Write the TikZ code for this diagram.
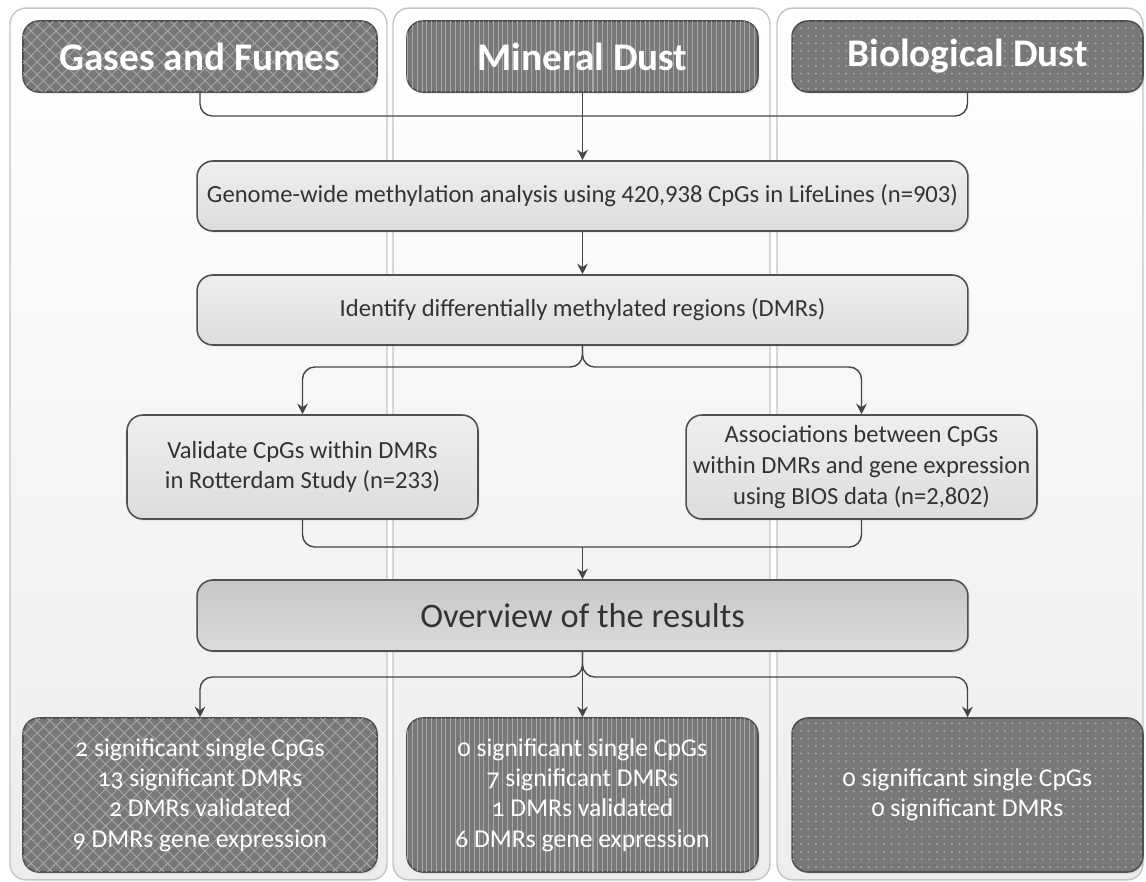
\documentclass[tikz,border=0pt]{standalone}
\usepackage{fontspec}
\setmainfont{Carlito}
\usetikzlibrary{arrows.meta,patterns.meta,shadows}
\definecolor{panelfill}{HTML}{F1F1F1}
\definecolor{paneledge}{HTML}{C4C4C4}
\definecolor{boxdark}{HTML}{787878}
\definecolor{patgray}{HTML}{A9A9A9}
\definecolor{edgegray}{HTML}{505050}
\definecolor{linegray}{HTML}{454545}
\definecolor{textgray}{HTML}{333333}

\begin{document}
\begin{tikzpicture}[x=0.02cm, y=-0.02cm, font=\fontsize{14}{17.5}\selectfont, every node/.style={align=center}]
\tikzset{
  panel/.style={draw=paneledge, line width=0.8pt, rounded corners=9pt, top color=white, bottom color=panelfill!85!gray!60},
  exposure/.style={draw=edgegray, line width=0.9pt, rounded corners=9pt, fill=boxdark, text=white,
    minimum height=1.42cm, drop shadow={opacity=0.12, shadow xshift=1pt, shadow yshift=-1.2pt}},
  heading/.style={exposure, font=\fontsize{22.3}{26}\selectfont\bfseries},
  result/.style={exposure, minimum height=3.08cm, font=\fontsize{14.6}{17.2}\selectfont\addfontfeatures{Numbers=OldStyle}},
  gashatch/.style={postaction={pattern={Hatch[angle=45,distance=5pt,line width=0.5pt]}, pattern color=patgray}},
  minlines/.style={postaction={pattern={Lines[angle=90,distance=2.7pt,line width=0.6pt]}, pattern color=patgray}},
  biodots/.style={postaction={pattern={Dots[distance=4.3pt,radius=0.6pt]}, pattern color=patgray}},
  stepbox/.style={draw=edgegray, line width=0.9pt, rounded corners=9pt, top color=gray!13, bottom color=gray!27,
    text=textgray, drop shadow={opacity=0.12, shadow xshift=1pt, shadow yshift=-1.2pt}},
  summary/.style={stepbox, top color=gray!44, bottom color=gray!28, font=\fontsize{19.6}{23}\selectfont},
  link/.style={draw=linegray, line width=0.8pt, rounded corners=7pt},
  arrowlink/.style={link, -{Stealth[length=6pt,width=6pt]}}
}
\fill[white] (0,0) rectangle (1146,882);
\useasboundingbox (0,0) rectangle (1146,882);

\node[panel, minimum width=7.54cm, minimum height=17.44cm] (gasPanel) at (198.5,444) {};
\node[panel, minimum width=7.54cm, minimum height=17.44cm] (minPanel) at (581.5,444) {};
\node[panel, minimum width=7.32cm, minimum height=17.44cm] (bioPanel) at (960,444) {};

\node[heading, gashatch, minimum width=7.08cm] (gases) at (200,56.5) {Gases and Fumes};
\node[heading, minlines, minimum width=7.02cm] (mineral) at (582.5,56.5) {Mineral Dust};
\node[heading, biodots, minimum width=7.02cm] (bio) at (967.5,56.5) {Biological Dust};

\node[stepbox, minimum width=15.42cm, minimum height=1.4cm] (genome) at (582.5,196)
  {Genome-wide methylation analysis using 420,938 CpGs in LifeLines (n=903)};
\node[stepbox, minimum width=15.42cm, minimum height=1.4cm] (identify) at (582.5,310)
  {Identify differentially methylated regions (DMRs)};
\node[stepbox, minimum width=7.02cm, minimum height=2.08cm] (validate) at (302.5,467)
  {Validate CpGs within DMRs\\in Rotterdam Study (n=233)};
\node[stepbox, minimum width=7.02cm, minimum height=2.08cm] (assoc) at (861.5,467)
  {Associations between CpGs\\within DMRs and gene expression\\using BIOS data (n=2,802)};
\node[summary, minimum width=15.42cm, minimum height=1.42cm] (overview) at (582.5,615.5)
  {Overview of the results};

\node[result, gashatch, minimum width=7.08cm] (gasres) at (200,795)
  {2 significant single CpGs\\13 significant DMRs\\2 DMRs validated\\9 DMRs gene expression};
\node[result, minlines, minimum width=7.02cm] (minres) at (582.5,795)
  {0 significant single CpGs\\7 significant DMRs\\1 DMRs validated\\6 DMRs gene expression};
\node[result, biodots, minimum width=7.02cm] (biores) at (967.5,795)
  {0 significant single CpGs\\0 significant DMRs};

\coordinate (topjoin) at (582.5,116);
\coordinate (split) at (582.5,367);
\coordinate (merge) at (582.5,547);
\coordinate (spread) at (582.5,677);

\draw[link] (gases.south) |- (topjoin);
\draw[link] (bio.south) |- (topjoin);
\draw[arrowlink] (mineral.south) -- (genome.north);
\draw[arrowlink] (genome.south) -- (identify.north);
\draw[arrowlink] (identify.south) -- (split) -| (validate.north);
\draw[arrowlink] (identify.south) -- (split) -| (assoc.north);
\draw[link] (validate.south) |- (merge);
\draw[link] (assoc.south) |- (merge);
\draw[arrowlink] (merge) -- (overview.north);
\draw[arrowlink] (overview.south) -- (spread) -| (gasres.north);
\draw[arrowlink] (overview.south) -- (spread) -| (biores.north);
\draw[arrowlink] (overview.south) -- (minres.north);
\end{tikzpicture}
\end{document}
